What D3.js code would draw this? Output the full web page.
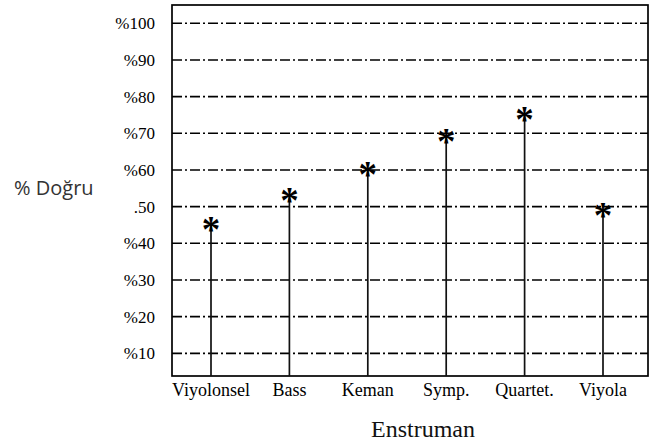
<!DOCTYPE html>
<html>
<head>
<meta charset="utf-8">
<script src="https://cdn.jsdelivr.net/npm/d3@7/dist/d3.min.js"></script>
<style>
  body { margin: 0; background: #fff; }
  svg { display: block; }
</style>
</head>
<body>
<svg id="chart" width="654" height="444"></svg>
<script>
const categories = ["Viyolonsel", "Bass", "Keman", "Symp.", "Quartet.", "Viyola"];
const values = [45, 53, 60, 69, 75, 49];
const tickValues = [10, 20, 30, 40, 50, 60, 70, 80, 90, 100];
const tickLabels = ["%10", "%20", "%30", "%40", ".50", "%60", "%70", "%80", "%90", "%100"];
const yTitle = "% Doğru";
const xTitle = "Enstruman";

const svg = d3.select("#chart");
const box = { left: 172, right: 648, top: 5, bottom: 376 };

const y = d3.scaleLinear().domain([0, 100]).range([390, 23.3]);
const x = d3.scalePoint().domain(categories).range([211, 603]);

// gridlines
svg.append("g").selectAll("line").data(tickValues).join("line")
  .attr("x1", box.left).attr("x2", box.right)
  .attr("y1", d => y(d)).attr("y2", d => y(d))
  .attr("stroke", "#000").attr("stroke-width", 1.6)
  .attr("stroke-dasharray", "10,3,2,3");

// frame
svg.append("rect")
  .attr("x", box.left).attr("y", box.top)
  .attr("width", box.right - box.left).attr("height", box.bottom - box.top)
  .attr("fill", "none").attr("stroke", "#000").attr("stroke-width", 1.7);

// y tick labels
svg.append("g").selectAll("text").data(tickValues).join("text")
  .attr("x", 155).attr("y", d => y(d))
  .attr("dy", "0.35em")
  .attr("text-anchor", "end")
  .attr("font-family", "Liberation Serif, Times New Roman, serif")
  .attr("font-size", 17)
  .attr("fill", "#000")
  .text((d, i) => tickLabels[i]);

// stems
const g = svg.append("g");
g.selectAll("line").data(values).join("line")
  .attr("x1", (d, i) => x(categories[i])).attr("x2", (d, i) => x(categories[i]))
  .attr("y1", box.bottom).attr("y2", d => y(d))
  .attr("stroke", "#111").attr("stroke-width", 1.7);

// asterisk markers
g.selectAll("text").data(values).join("text")
  .attr("x", (d, i) => x(categories[i]))
  .attr("y", d => y(d) + 17.5)
  .attr("text-anchor", "middle")
  .attr("font-family", "Liberation Serif, Times New Roman, serif")
  .attr("font-weight", "bold")
  .attr("font-size", 37)
  .attr("fill", "#000")
  .text("*");

// x category labels
svg.append("g").selectAll("text").data(categories).join("text")
  .attr("x", d => x(d)).attr("y", 396)
  .attr("text-anchor", "middle")
  .attr("font-family", "Liberation Serif, Times New Roman, serif")
  .attr("font-size", 18)
  .attr("fill", "#000")
  .text(d => d);

// axis titles
svg.append("text")
  .attr("x", 423).attr("y", 437)
  .attr("text-anchor", "middle")
  .attr("font-family", "Liberation Serif, Times New Roman, serif")
  .attr("font-size", 24)
  .attr("fill", "#111")
  .text(xTitle);

svg.append("text")
  .attr("x", 14).attr("y", 195)
  .attr("font-family", "Open Sans, sans-serif")
  .attr("font-size", 20)
  .attr("fill", "#333")
  .text(yTitle);
</script>
</body>
</html>
